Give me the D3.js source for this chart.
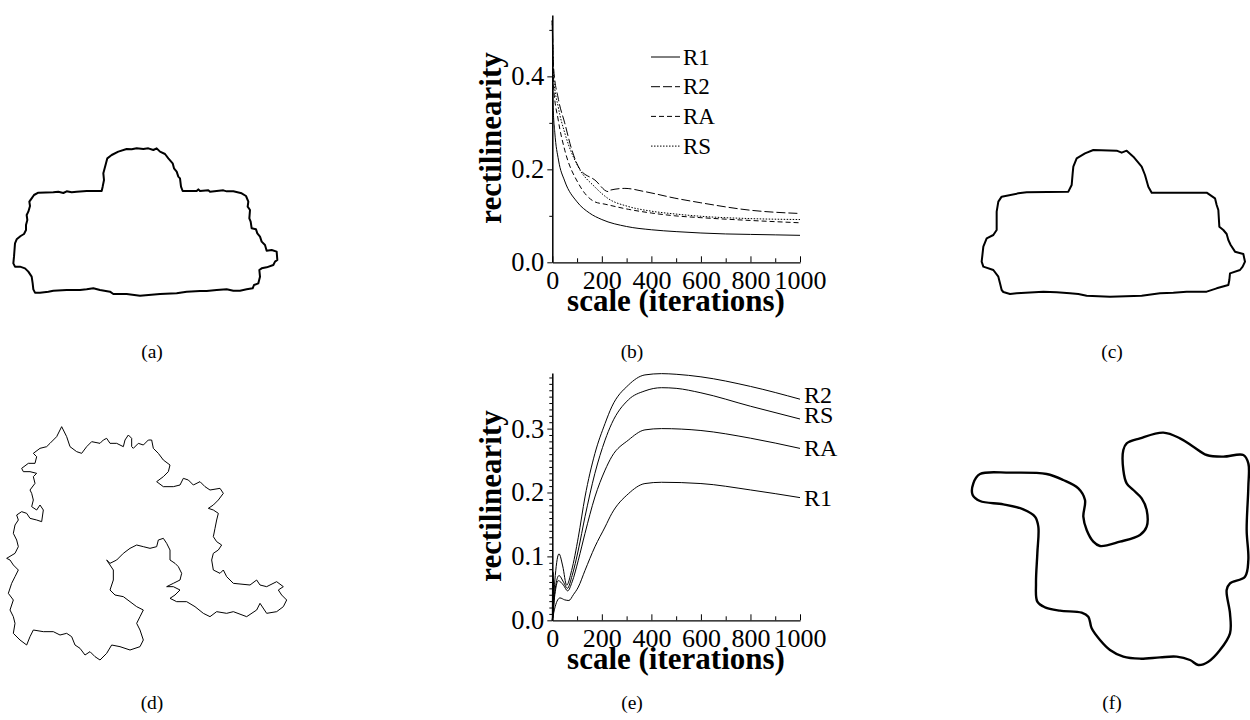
<!DOCTYPE html>
<html>
<head>
<meta charset="utf-8">
<script src="https://cdn.jsdelivr.net/npm/d3@7/dist/d3.min.js"></script>
<style>
  body { margin: 0; background: #fff; }
  text { font-family: "Liberation Serif", "Times New Roman", serif; fill: #000; }
  .axis path, .axis line { stroke: #000; }
</style>
</head>
<body>
<svg width="1250" height="720"></svg>
<script>
// ---- plot (b): rectilinearity vs scale, decreasing curves ----
var bR1 = [[0,0.52],[3,0.34],[10,0.28],[25,0.22],[50,0.175],[100,0.13],[150,0.106],[200,0.092],[300,0.077],[400,0.07],[500,0.066],[600,0.063],[700,0.061],[800,0.06],[900,0.059],[1000,0.058]];
var bR2 = [[0,0.52],[5,0.42],[25,0.35],[50,0.30],[80,0.24],[112,0.20],[172,0.177],[226,0.152],[232,0.155],[293,0.159],[374,0.152],[495,0.138],[600,0.128],[800,0.112],[1000,0.105]];
var bRA = [[0,0.52],[5,0.38],[24,0.306],[51,0.24],[105,0.17],[172,0.13],[213,0.125],[307,0.114],[400,0.106],[495,0.1],[600,0.096],[800,0.09],[1000,0.085]];
var bRS = [[0,0.52],[5,0.40],[24,0.334],[51,0.277],[105,0.205],[172,0.162],[226,0.137],[307,0.12],[400,0.11],[495,0.104],[600,0.099],[800,0.094],[1000,0.092]];
var bNames = ["R1", "R2", "RA", "RS"];
var bDash = [null, "9,3", "5,3", "1.5,1.5"];

// ---- plot (e): rectilinearity vs scale, rising curves ----
var eR2 = [[0,0],[12,0.07],[27,0.104],[42,0.085],[58,0.055],[78,0.078],[105,0.13],[132,0.193],[172,0.261],[213,0.308],[240,0.334],[307,0.368],[374,0.384],[441,0.386],[500,0.385],[600,0.381],[800,0.366],[1000,0.346]];
var eRS = [[0,0],[12,0.05],[27,0.07],[45,0.06],[61,0.05],[80,0.07],[105,0.11],[132,0.162],[172,0.23],[213,0.282],[240,0.308],[307,0.345],[374,0.359],[441,0.364],[500,0.363],[600,0.356],[800,0.335],[1000,0.315]];
var eRA = [[0,0],[12,0.045],[24,0.062],[45,0.055],[62,0.046],[80,0.06],[105,0.094],[132,0.136],[172,0.193],[213,0.235],[240,0.256],[307,0.282],[374,0.298],[441,0.3],[600,0.297],[800,0.285],[1000,0.269]];
var eR1 = [[0,0],[12,0.022],[31,0.035],[50,0.032],[67,0.031],[85,0.04],[105,0.052],[132,0.078],[172,0.115],[213,0.146],[240,0.167],[307,0.198],[374,0.214],[441,0.216],[600,0.214],[800,0.204],[1000,0.192]];
var eStart = [[0,0],[1,0.078],[2,0.004],[3,0.075],[4,0.01],[5,0.065],[6,0.02]];
var eNames = ["R2", "RS", "RA", "R1"];

var xTicks = [0, 200, 400, 600, 800, 1000];
var xMinor = [100, 300, 500, 700, 900];
var bYTicks = [0, 0.2, 0.4];
var eYTicks = [0, 0.1, 0.2, 0.3];
var panelLabels = ["(a)", "(b)", "(c)", "(d)", "(e)", "(f)"];

// ---- outlines (traced units) ----
var shapeA = [[305,183],[308,170],[312,150],[310,130],[318,100],[322,85],[335,75],[355,65],[380,57],[395,58],[410,55],[430,57],[445,55],[460,60],[470,55],[480,65],[495,72],[505,85],[518,100],[522,115],[530,125],[535,140],[540,145],[543,170],[548,183],[590,183],[595,178],[600,183],[625,181],[630,185],[670,181],[680,184],[700,184],[725,190],[738,198],[745,215],[743,230],[750,240],[748,265],[752,275],[755,295],[768,298],[772,310],[780,320],[785,335],[795,345],[800,362],[815,360],[830,365],[832,390],[825,395],[820,405],[800,412],[785,415],[778,420],[780,440],[775,460],[762,465],[758,475],[740,478],[720,482],[700,482],[680,478],[650,480],[620,483],[600,483],[560,485],[530,490],[480,492],[420,497],[380,492],[340,492],[330,485],[300,480],[280,475],[260,478],[240,480],[200,480],[160,482],[145,485],[120,488],[105,488],[100,478],[98,460],[95,440],[85,425],[75,415],[60,410],[45,410],[40,400],[42,380],[45,340],[50,328],[62,318],[72,312],[78,300],[78,285],[82,270],[80,255],[85,245],[90,228],[88,215],[95,205],[102,195],[115,188],[160,187],[175,185],[190,189],[200,184],[215,187],[230,185],[260,183],[305,183]];
var shapeC = [[325,185],[335,165],[338,130],[340,110],[350,85],[375,70],[400,60],[470,62],[485,68],[500,62],[520,80],[545,110],[555,135],[565,170],[575,188],[740,188],[765,205],[770,225],[775,240],[778,290],[790,300],[800,312],[805,330],[812,345],[825,365],[850,372],[855,395],[848,410],[840,420],[810,430],[808,450],[805,465],[770,475],[740,485],[680,485],[640,488],[600,490],[545,497],[450,500],[380,497],[355,492],[330,490],[290,487],[250,485],[170,490],[150,492],[130,486],[125,480],[120,460],[115,440],[100,420],[70,410],[65,395],[70,350],[80,325],[100,315],[110,300],[110,245],[115,215],[125,200],[175,190],[200,187],[325,185]];
var shapeD = [[185,50],[200,80],[210,110],[230,125],[245,130],[260,110],[275,95],[300,100],[310,90],[320,85],[330,100],[350,100],[370,110],[375,90],[385,75],[395,85],[395,110],[400,115],[415,100],[430,105],[445,90],[455,90],[460,115],[475,130],[490,150],[510,165],[505,185],[490,200],[470,215],[490,230],[520,230],[540,225],[550,205],[565,210],[580,225],[600,215],[615,230],[630,240],[660,235],[670,250],[655,270],[640,285],[625,295],[640,300],[655,310],[650,330],[645,355],[640,380],[650,395],[665,405],[655,420],[640,430],[635,450],[640,480],[660,490],[670,480],[680,500],[700,520],[750,525],[770,510],[780,525],[800,530],[830,515],[850,530],[835,540],[845,555],[860,570],[850,590],[830,605],[800,610],[780,580],[770,600],[740,620],[700,605],[680,610],[650,605],[630,620],[610,610],[585,590],[560,575],[530,575],[510,565],[525,555],[540,540],[520,530],[500,530],[520,520],[540,510],[545,490],[535,470],[525,460],[510,450],[510,420],[500,400],[490,385],[475,390],[470,410],[450,415],[430,410],[410,405],[390,415],[370,430],[350,450],[330,460],[320,450],[340,480],[340,510],[330,540],[345,555],[370,560],[390,575],[410,590],[430,600],[420,620],[410,640],[420,660],[430,690],[420,710],[390,720],[360,710],[335,705],[320,730],[300,750],[285,740],[270,725],[255,735],[240,715],[225,705],[215,680],[200,670],[180,675],[160,665],[130,665],[100,660],[90,680],[80,705],[60,690],[40,670],[45,640],[40,620],[30,600],[40,570],[25,550],[35,520],[45,500],[55,480],[40,465],[30,450],[20,445],[45,430],[55,410],[50,390],[40,370],[45,345],[55,330],[50,315],[65,305],[80,310],[90,325],[110,330],[125,335],[130,300],[120,285],[110,300],[95,290],[100,270],[95,250],[90,240],[105,220],[100,200],[110,190],[90,185],[70,185],[65,175],[85,160],[105,160],[110,140],[100,130],[120,115],[140,110],[150,100],[170,80],[185,50]];
var shapeF = [[40,190],[60,162],[150,158],[260,162],[310,180],[355,205],[375,240],[370,290],[380,330],[400,365],[420,378],[480,365],[540,345],[560,320],[560,270],[545,235],[520,210],[500,190],[490,150],[490,90],[500,70],[540,55],[610,38],[660,55],[700,80],[740,105],[790,110],[850,105],[865,130],[865,200],[860,330],[865,420],[855,470],[810,490],[800,510],[810,580],[810,640],[780,690],[745,725],[715,735],[690,720],[650,710],[600,712],[540,716],[490,710],[450,690],[420,660],[395,625],[385,590],[365,578],[300,572],[255,562],[232,545],[228,490],[232,400],[235,320],[225,290],[190,268],[130,253],[60,243],[38,225]];

var svg = d3.select("svg");
svg.append("rect").attr("width", 1250).attr("height", 720).attr("fill", "#fff");

// shapes: traced units are 3x page pixels
function drawShape(pts, x0, y0, sw, curve) {
  var sx = d3.scaleLinear().domain([0, 3]).range([x0, x0 + 1]);
  var sy = d3.scaleLinear().domain([0, 3]).range([y0, y0 + 1]);
  var line = d3.line().x(function(d) { return sx(d[0]); }).y(function(d) { return sy(d[1]); }).curve(curve);
  svg.append("path").datum(pts).attr("d", line).attr("fill", "none")
    .attr("stroke", "#000").attr("stroke-width", sw).attr("stroke-linejoin", "round");
}
drawShape(shapeA, 0, 130, 2, d3.curveLinearClosed);
drawShape(shapeC, 960, 130, 2, d3.curveLinearClosed);
drawShape(shapeD, 0, 410, 1, d3.curveLinearClosed);
drawShape(shapeF, 960, 420, 2.4, d3.curveCatmullRomClosed);

// plots
function makePlot(top, yMax, yTicks, yMinor) {
  var x = d3.scaleLinear().domain([0, 1000]).range([552.3, 800]);
  var y = d3.scaleLinear().domain([0, yMax]).range([top + 247.3, top]);
  var g = svg.append("g");

  g.append("g").attr("class", "axis").attr("transform", "translate(0," + y(0) + ")")
    .call(d3.axisBottom(x).tickValues(xMinor).tickSize(-4).tickSizeOuter(0).tickFormat(""))
    .call(function(s) { s.select(".domain").remove(); });
  g.append("g").attr("class", "axis").attr("transform", "translate(0," + y(0) + ")")
    .call(d3.axisBottom(x).tickValues(xTicks).tickSize(-6).tickSizeOuter(0).tickPadding(8).tickFormat(d3.format("d")))
    .call(function(s) {
      s.select(".domain").attr("stroke-width", 1.3);
      s.selectAll("text").attr("font-size", 26).attr("font-family", "Liberation Serif").attr("fill", "#000");
    });

  g.append("g").attr("class", "axis").attr("transform", "translate(" + x(0) + ",0)")
    .call(d3.axisLeft(y).tickValues(yMinor).tickSize(3).tickSizeOuter(0).tickFormat(""))
    .call(function(s) { s.select(".domain").remove(); });
  g.append("g").attr("class", "axis").attr("transform", "translate(" + x(0) + ",0)")
    .call(d3.axisLeft(y).tickValues(yTicks).tickSize(5).tickSizeOuter(0).tickPadding(3).tickFormat(d3.format(".1f")))
    .call(function(s) {
      s.select(".domain").attr("stroke-width", 1.5);
      s.selectAll("text").attr("font-size", 26.5).attr("font-family", "Liberation Serif").attr("fill", "#000");
    });

  g.append("text").attr("x", 676).attr("y", top + 296)
    .attr("text-anchor", "middle").attr("font-weight", "bold").attr("font-size", 31)
    .text("scale (iterations)");
  g.append("text").attr("transform", "translate(501," + (top + 123) + ") rotate(-90)")
    .attr("text-anchor", "middle").attr("font-weight", "bold").attr("font-size", 31)
    .text("rectilinearity");
  return { x: x, y: y, g: g };
}

// (b)
var pb = makePlot(15, 0.532, bYTicks, [0.1, 0.3, 0.5]);
var lineB = d3.line().x(function(d) { return pb.x(d[0]); }).y(function(d) { return pb.y(d[1]); }).curve(d3.curveMonotoneX);
[bR1, bR2, bRA, bRS].forEach(function(s, i) {
  pb.g.append("path").datum(s).attr("d", lineB).attr("fill", "none")
    .attr("stroke", "#000").attr("stroke-width", 1).attr("stroke-dasharray", bDash[i]);
});
var leg = pb.g.selectAll(".leg").data(bNames).enter().append("g")
  .attr("transform", function(d, i) { return "translate(651," + (57 + i * 29.7) + ")"; });
leg.append("line").attr("x1", 0).attr("x2", 29).attr("stroke", "#000").attr("stroke-width", 1)
  .attr("stroke-dasharray", function(d, i) { return bDash[i]; });
leg.append("text").attr("x", 32).attr("y", 7.5).attr("font-size", 23).text(function(d) { return d; });

// (e)
var eMinor = d3.range(1, 39).map(function(i) { return i / 100; }).filter(function(v) { return Math.round(v * 100) % 10 !== 0; });
var pe = makePlot(373, 0.387, eYTicks, eMinor);
var lineE = d3.line().x(function(d) { return pe.x(d[0]); }).y(function(d) { return pe.y(d[1]); }).curve(d3.curveMonotoneX);
var eSeries = [eR2, eRS, eRA, eR1];
eSeries.forEach(function(s) {
  pe.g.append("path").datum(s).attr("d", lineE).attr("fill", "none").attr("stroke", "#000").attr("stroke-width", 1);
});
pe.g.append("path").datum(eStart).attr("d", d3.line().x(function(d) { return pe.x(d[0]); }).y(function(d) { return pe.y(d[1]); }))
  .attr("fill", "none").attr("stroke", "#000").attr("stroke-width", 1);
var eLabelY = [0.353, 0.322, 0.27, 0.192];
pe.g.selectAll(".elab").data(eNames).enter().append("text")
  .attr("x", 804).attr("y", function(d, i) { return pe.y(eLabelY[i]) + 8; })
  .attr("font-size", 24).text(function(d) { return d; });

// panel labels
var labX = [152, 632, 1112];
svg.selectAll(".plab").data(panelLabels).enter().append("text")
  .attr("x", function(d, i) { return labX[i % 3]; })
  .attr("y", function(d, i) { return i < 3 ? 358 : 709; })
  .attr("text-anchor", "middle").attr("font-size", 19.5).text(function(d) { return d; });
</script>
</body>
</html>
